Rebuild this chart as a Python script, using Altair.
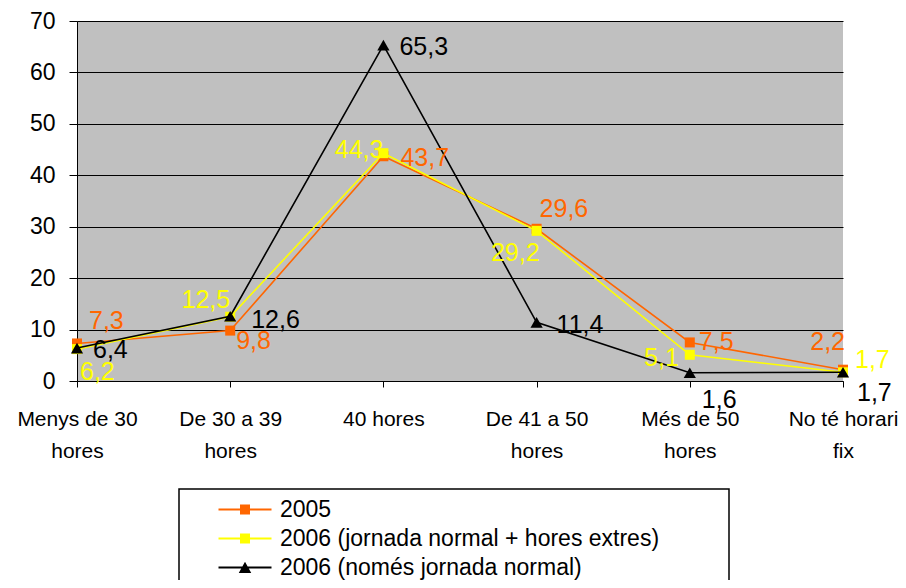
import altair as alt
import pandas as pd

# ---- data ----
categories = ["Menys de 30\nhores", "De 30 a 39\nhores", "40 hores",
              "De 41 a 50\nhores", "Més de 50\nhores", "No té horari\nfix"]
series_names = ["2005", "2006 (jornada normal + hores extres)", "2006 (només jornada normal)"]
values_2005 = [7.3, 9.8, 43.7, 29.6, 7.5, 2.2]
values_2006_total = [6.2, 12.5, 44.3, 29.2, 5.1, 1.7]
values_2006_normal = [6.4, 12.6, 65.3, 11.4, 1.6, 1.7]
y_ticks = [0, 10, 20, 30, 40, 50, 60, 70]

# ---- styles ----
colors = ["#FF6600", "#FFFF00", "#000000"]
marker_shapes = ["square", "square", "triangle-up"]
marker_sizes = [100, 100, 150]
FONT = "Liberation Sans"

# legend symbols: line with a marker on it (1 unit = 5 px at symbolSize 100)
legend_paths = [
    "M-1,-0.2H9.6V0.2H-1Z M3.3,-1H5.3V1H3.3Z",
    "M-1,-0.2H9.6V0.2H-1Z M3.3,-1H5.3V1H3.3Z",
    "M-1,-0.2H9.6V0.2H-1Z M4.3,-1.15L5.55,1.1L3.05,1.1Z",
]

# label placement (align, dx, dy) per series and category index
label_style = {
    (0, 0): ("left", 12, -22), (0, 1): ("left", 6, 10), (0, 2): ("left", 17, 2),
    (0, 3): ("left", 3, -20), (0, 4): ("left", 9, 0), (0, 5): ("right", 2, -28),
    (1, 0): ("left", 3, 23), (1, 1): ("right", 0, -17), (1, 2): ("right", 0, -3),
    (1, 3): ("right", 3, 22), (1, 4): ("right", -11, 3), (1, 5): ("left", 12, -12),
    (2, 0): ("left", 16, 2), (2, 1): ("left", 21, 4), (2, 2): ("left", 16, 2),
    (2, 3): ("left", 20, 3), (2, 4): ("left", 12, 27), (2, 5): ("left", 14, 21),
}

all_values = [values_2005, values_2006_total, values_2006_normal]
rows = []
for si, (name, vals) in enumerate(zip(series_names, all_values)):
    for ci, (cat, v) in enumerate(zip(categories, vals)):
        rows.append({"series": name, "si": si, "ci": ci, "category": cat,
                     "value": v, "label": f"{v:.1f}".replace(".", ",")})
df = pd.DataFrame(rows)

x_enc = alt.X("category:N", sort=categories,
              scale=alt.Scale(type="point", padding=0),
              axis=alt.Axis(title=None, labelAngle=0, labelExpr="split(datum.label, '\\n')",
                            labelFontSize=21, labelLineHeight=32, labelPadding=21,
                            tickSize=6, labelFont=FONT, labelColor="black",
                            domainColor="black", tickColor="black", grid=False))
y_enc = alt.Y("value:Q", scale=alt.Scale(domain=[0, 70], nice=False),
              axis=alt.Axis(title=None, values=y_ticks, labelFontSize=23, labelFont=FONT,
                            labelColor="black", tickSize=8, labelPadding=14,
                            domainColor="black", tickColor="black", grid=True,
                            gridColor="black", gridOpacity=1, gridWidth=1))

base = alt.Chart(df)
layers = []
for si, name in enumerate(series_names):
    sub = base.transform_filter(alt.datum.si == si)
    layers.append(sub.mark_line(color=colors[si], strokeWidth=1.6).encode(x=x_enc, y=y_enc))
    layers.append(sub.mark_point(shape=marker_shapes[si], filled=True, opacity=1,
                                 color=colors[si], size=marker_sizes[si]).encode(x=x_enc, y=y_enc))

for (si, ci), (align, dx, dy) in label_style.items():
    layers.append(
        base.transform_filter((alt.datum.si == si) & (alt.datum.ci == ci))
        .mark_text(align=align, baseline="middle", dx=dx, dy=dy, fontSize=25,
                   font=FONT, color=colors[si])
        .encode(x=x_enc, y=y_enc, text="label:N")
    )

# legend carrier layer (draws no marks itself)
legend_layer = base.transform_filter("false").mark_point(filled=True, opacity=1).encode(
    x=x_enc, y=y_enc,
    color=alt.Color("series:N", scale=alt.Scale(domain=series_names, range=colors),
                    legend=alt.Legend(title="\u00a0")),
    shape=alt.Shape("series:N", scale=alt.Scale(domain=series_names, range=legend_paths),
                    legend=alt.Legend(title="\u00a0")),
)
layers.append(legend_layer)

chart = alt.layer(*layers).properties(
    width=766, height=360,
    autosize=alt.AutoSizeParams(type="none"),
    padding={"left": 69, "top": 13, "right": 55, "bottom": 199},
    background="white",
).configure_view(fill="#C0C0C0", stroke=None).configure_legend(
    orient="none", legendX=102, legendY=468, direction="vertical",
    strokeColor="black", strokeWidth=1.5, fillColor="white", padding=9,
    symbolSize=100, symbolStrokeWidth=0, symbolOffset=24,
    labelFontSize=23, labelFont=FONT, labelColor="black", labelOffset=45,
    rowPadding=5, labelLimit=600,
    titleOrient="right", titlePadding=61, titleFontSize=10,
)

chart.save("out.html", embed_options={"renderer": "svg", "actions": False})
